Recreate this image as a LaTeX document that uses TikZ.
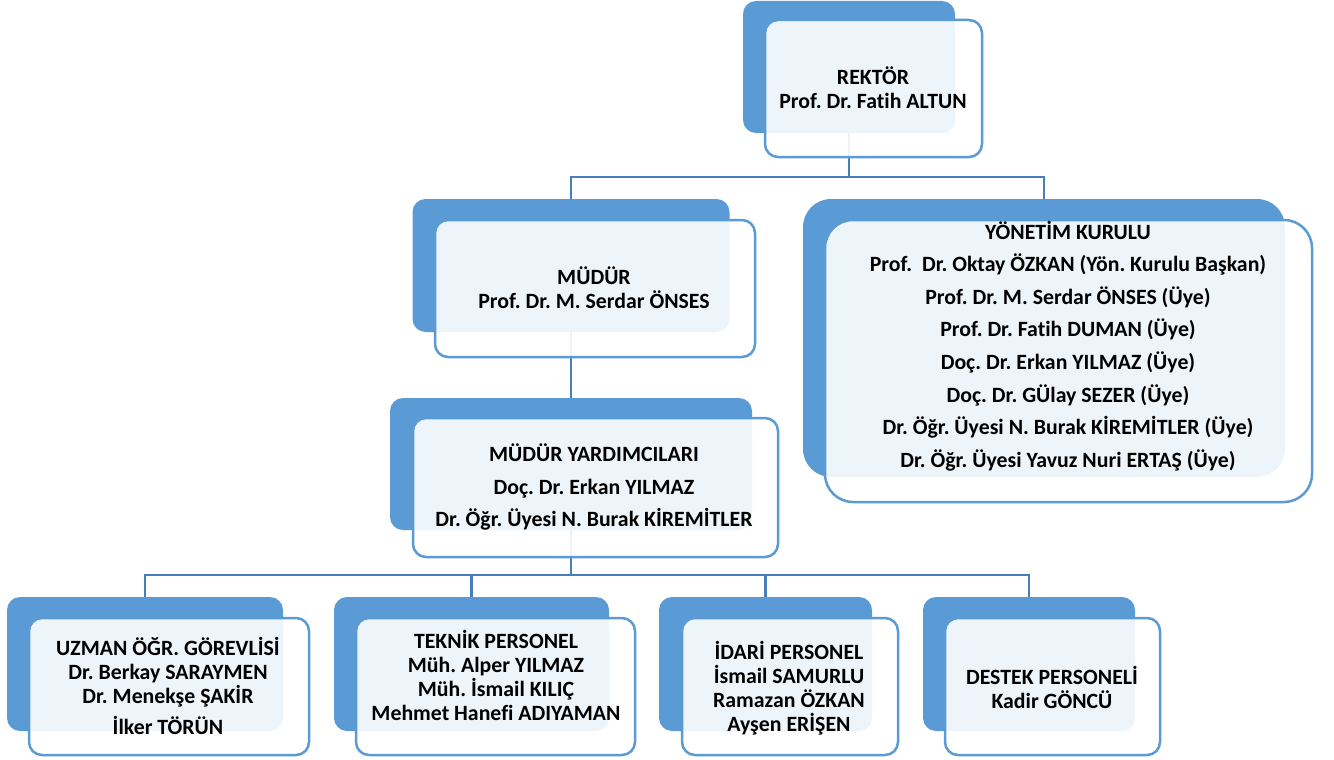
\documentclass[tikz,border=0pt]{standalone}
\usepackage{fontspec}
\setmainfont[Ligatures=NoCommon]{Carlito}
\usepackage{xcolor}
\definecolor{boxblue}{HTML}{5B9BD5}
\definecolor{lineblue}{HTML}{4A7EBB}
\frenchspacing

\begin{document}
\begin{tikzpicture}[x=1pt, y=-1pt,
        back/.style={fill=boxblue, rounded corners=13pt, inner sep=0pt},
        front/.style={draw=boxblue, line width=2.5pt, fill=white, fill opacity=0.9,
            rounded corners=13pt, inner sep=0pt},
        txt/.style={align=center, inner sep=0pt, font=\bfseries\fontsize{21.8}{24}\selectfont},
        wide/.style={font=\bfseries\fontsize{21.8}{32.6}\selectfont},
        conn/.style={draw=lineblue, line width=2.25pt}]
        \useasboundingbox (0,0) rectangle (1334,760);

        % blue boxes behind
        \node[back, minimum width=212pt, minimum height=132pt] (rektorb) at (849,67) {};
        \node[back, minimum width=317pt, minimum height=133pt] (mudurb) at (571,265.5) {};
        \node[back, minimum width=362pt, minimum height=132pt] (yardb) at (571,464) {};
        \node[back, rounded corners=28pt, minimum width=482pt, minimum height=278pt] (kurulb) at (1044,338) {};
        \node[back, minimum width=276pt, minimum height=134pt] (uzmanb) at (145,664) {};
        \node[back, minimum width=275pt, minimum height=134pt] (teknikb) at (471.5,664) {};
        \node[back, minimum width=213pt, minimum height=134pt] (idarib) at (765.5,664) {};
        \node[back, minimum width=212pt, minimum height=134pt] (destekb) at (1029,664) {};

        % connectors
        \coordinate (top) at (849,177);
        \coordinate (bot) at (571,575);
        \draw[conn] (rektorb.south) -- (top);
        \draw[conn] (mudurb.north) |- (top) -| (kurulb.north);
        \draw[conn] (mudurb.south) -- (yardb.north);
        \draw[conn] (yardb.south) -- (bot);
        \draw[conn] (uzmanb.north) |- (bot) -| (destekb.north);
        \draw[conn] (teknikb.north) -- (teknikb.north |- bot);
        \draw[conn] (idarib.north) -- (idarib.north |- bot);

        % light boxes in front
        \node[front, minimum width=217pt, minimum height=137pt] (rektorf) at (873.5,88.5) {};
        \node[front, minimum width=320pt, minimum height=137pt] (mudurf) at (595,288.5) {};
        \node[front, minimum width=365pt, minimum height=139pt] (yardf) at (595.5,487.5) {};
        \node[front, rounded corners=28pt, minimum width=487pt, minimum height=282pt] (kurulf) at (1068.5,361) {};
        \node[front, minimum width=280pt, minimum height=137pt] (uzmanf) at (169,686.5) {};
        \node[front, minimum width=279pt, minimum height=137pt] (teknikf) at (495.5,686.5) {};
        \node[front, minimum width=216pt, minimum height=137pt] (idarif) at (790,686.5) {};
        \node[front, minimum width=215pt, minimum height=137pt] (destekf) at (1052.5,686.5) {};

        % texts
        \node[txt] (rektort) at (873,88) {REKTÖR\\Prof. Dr. Fatih ALTUN};
        \node[txt] (mudurt) at (594,288) {MÜDÜR\\Prof. Dr. M. Serdar ÖNSES};
        \node[txt, wide] (yardt) at (594,487) {MÜDÜR YARDIMCILARI\\Doç. Dr. Erkan YILMAZ\\Dr. Öğr. Üyesi N. Burak KİREMİTLER};
        \node[txt, wide] (kurult) at (1068,346) {YÖNETİM KURULU\\Prof.\ \ Dr. Oktay ÖZKAN (Yön. Kurulu Başkan)\\Prof. Dr. M. Serdar ÖNSES (Üye)\\Prof. Dr. Fatih DUMAN (Üye)\\Doç. Dr. Erkan YILMAZ (Üye)\\Doç. Dr. GÜlay SEZER (Üye)\\Dr. Öğr. Üyesi N. Burak KİREMİTLER (Üye)\\Dr. Öğr. Üyesi Yavuz Nuri ERTAŞ (Üye)};
        \node[txt] (uzmant) at (168,686) {UZMAN ÖĞR. GÖREVLİSİ\\Dr. Berkay SARAYMEN\\Dr. Menekşe ŞAKİR\\[7pt]İlker TÖRÜN};
        \node[txt] (teknikt) at (496,675) {TEKNİK PERSONEL\\Müh. Alper YILMAZ\\Müh. İsmail KILIÇ\\Mehmet Hanefi ADIYAMAN};
        \node[txt] (idarit) at (789,688) {İDARİ PERSONEL\\İsmail SAMURLU\\Ramazan ÖZKAN\\Ayşen ERİŞEN};
        \node[txt] (destekt) at (1052,687) {DESTEK PERSONELİ\\Kadir GÖNCÜ};
    \end{tikzpicture}
\end{document}
